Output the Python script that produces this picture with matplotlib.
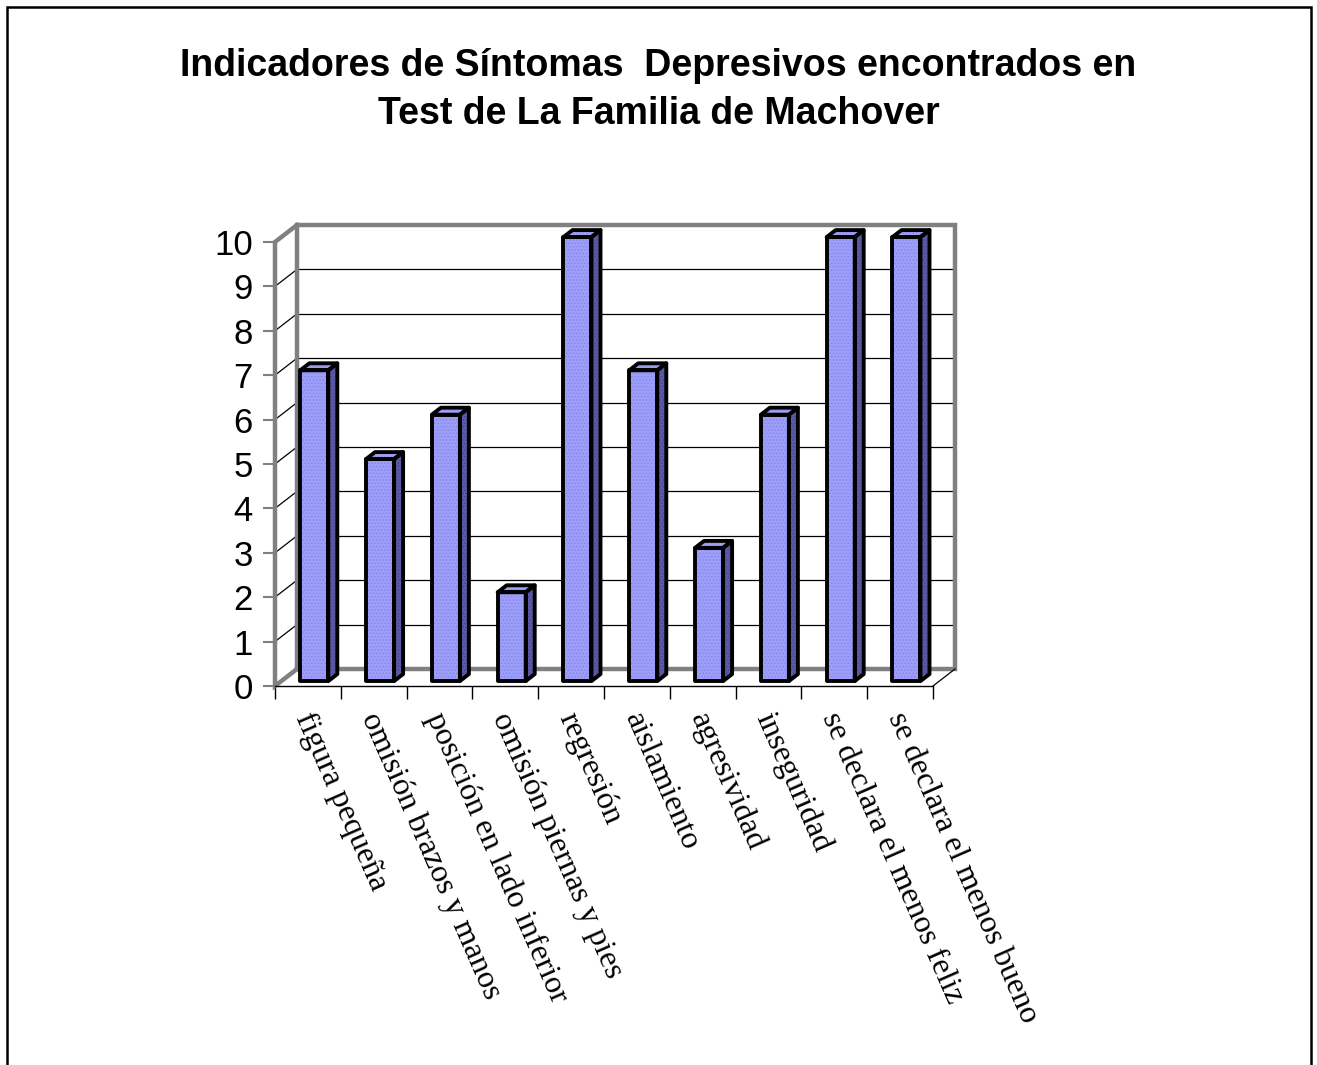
import numpy as np
import matplotlib.pyplot as plt
from matplotlib.patches import Polygon, Rectangle

plt.rcParams['hatch.linewidth'] = 0.6

# data
categories = ['figura pequeña', 'omisión brazos y manos', 'posición en lado inferior',
              'omisión piernas y pies', 'regresión', 'aislamiento', 'agresividad',
              'inseguridad', 'se declara el menos feliz', 'se declara el menos bueno']
values = [7, 5, 6, 2, 10, 7, 3, 6, 10, 10]
y_ticks = list(range(0, 11))

# 3d look: depth vector in data units, bar placement inside the depth
dx, dy = 0.334, 0.383
t0, t1 = 0.29, 0.70
half_w = 0.213
wall_gray = '#808080'

fig = plt.figure(figsize=(13.17, 10.65), dpi=100)
ax = fig.add_axes([275 / 1317, 379 / 1065, 658 / 1317, 444 / 1065])
ax.set_xlim(0, len(categories))
ax.set_ylim(0, 10)
for s in ax.spines.values():
    s.set_visible(False)

n = len(categories)
kw = dict(clip_on=False)

# grid lines on back wall and side wall
for k in y_ticks[1:-1]:
    ax.plot([dx, n + dx], [k + dy, k + dy], color='black', lw=0.9, **kw)
    ax.plot([0, dx], [k, k + dy], color='black', lw=0.9, **kw)

# walls frame
ax.plot([dx, n + dx, n + dx, dx, dx], [dy, dy, 10 + dy, 10 + dy, dy], color=wall_gray, lw=3.2, solid_joinstyle='miter', **kw)
ax.plot([dx, 0, 0, dx], [10 + dy, 10, 0, dy], color=wall_gray, lw=3.2, solid_joinstyle='miter', **kw)
ax.plot([n, n + dx], [0, dy], color='black', lw=0.9, **kw)
ax.plot([0, n], [0, 0], color='black', lw=1.0, **kw)

# bars
for i, v in enumerate(values):
    xc = i + 0.5
    x0 = xc - half_w + t0 * dx
    x1 = xc + half_w + t0 * dx
    yb = t0 * dy
    ox, oy = (t1 - t0) * dx, (t1 - t0) * dy
    front = [(x0, yb), (x1, yb), (x1, yb + v), (x0, yb + v)]
    side = [(x1, yb), (x1 + ox, yb + oy), (x1 + ox, yb + v + oy), (x1, yb + v)]
    top = [(x0, yb + v), (x1, yb + v), (x1 + ox, yb + v + oy), (x0 + ox, yb + v + oy)]
    for pts, col, dots in [(side, '#5a5aa6', '#46468a'), (top, '#a0a0f5', '#8a8ae0'), (front, '#9d9dfa', '#8686e6')]:
        # fine dotted texture, then outline
        ax.add_patch(Polygon(pts, closed=True, facecolor=col, edgecolor=dots, lw=0,
                             hatch='.....', zorder=3, **kw))
        ax.add_patch(Polygon(pts, closed=True, facecolor='none', edgecolor='black',
                             lw=2.8, joinstyle='round', zorder=4, **kw))

# y axis ticks and labels
ax.set_yticks(y_ticks)
ax.set_yticklabels([str(k) for k in y_ticks], fontsize=25, family='Liberation Sans')
ax.tick_params(axis='y', length=9, width=1.5, color=wall_gray, pad=7)

# x axis ticks at category boundaries
ax.set_xticks(np.arange(n + 1))
ax.set_xticklabels([])
ax.tick_params(axis='x', length=9, width=1.0, color='black')

# rotated category labels
for i, lab in enumerate(categories):
    ax.text(i + 0.62, -0.5, lab, rotation=-66.3, rotation_mode='anchor',
            ha='left', va='top', fontsize=23, family='Liberation Serif', clip_on=False)

fig.text(0.5, 0.955, 'Indicadores de Síntomas  Depresivos encontrados en\nTest de La Familia de Machover',
         ha='center', va='top', fontsize=27, fontweight='bold', family='Liberation Sans', linespacing=1.42)

# outer frame
fig.add_artist(Rectangle((7 / 1317, -0.01), 1304 / 1317, 1 - 7 / 1065 + 0.01, transform=fig.transFigure,
                         fill=False, edgecolor='black', lw=1.8))

fig.savefig('out.png', dpi=100, facecolor='white')
